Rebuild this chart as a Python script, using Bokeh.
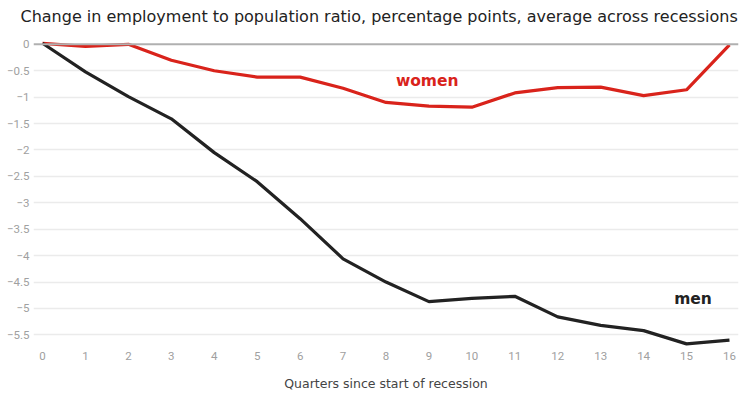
from bokeh.plotting import figure
from bokeh.models import Range1d, FixedTicker, Label, Span, Title
from bokeh.embed import file_html
from bokeh.resources import INLINE

quarters = list(range(17))
women = [0.02, -0.04, 0.0, -0.30, -0.50, -0.62, -0.62, -0.83, -1.10, -1.17, -1.19,
         -0.92, -0.82, -0.81, -0.97, -0.86, -0.01]
men = [0.02, -0.52, -0.99, -1.41, -2.05, -2.60, -3.30, -4.06, -4.50, -4.87, -4.81,
       -4.77, -5.16, -5.32, -5.42, -5.67, -5.60]
y_ticks = [0, -0.5, -1, -1.5, -2, -2.5, -3, -3.5, -4, -4.5, -5, -5.5]
title_text = "Change in employment to population ratio, percentage points, average across recessions"
x_label = "Quarters since start of recession"

p = figure(frame_width=705, frame_height=316, output_backend="svg", toolbar_location=None,
           x_range=Range1d(-0.21, 16.21), y_range=Range1d(-5.72, 0.262),
           min_border_left=33, min_border_right=5, min_border_top=30, min_border_bottom=10)
p.title = Title(text=title_text, text_font="DejaVu Sans", text_font_size="16px",
                text_font_style="normal", text_color="#222222", align="left", offset=-13,
                standoff=9)
p.outline_line_color = None
p.background_fill_color = "white"

p.xaxis.ticker = FixedTicker(ticks=quarters)
p.yaxis.ticker = FixedTicker(ticks=y_ticks)
p.yaxis.major_label_overrides = {t: (("−" + f"{abs(t):g}") if t < 0 else f"{t:g}") for t in y_ticks}
for ax in (p.xaxis[0], p.yaxis[0]):
    ax.axis_line_color = None
    ax.major_tick_line_color = None
    ax.minor_tick_line_color = None
    ax.major_tick_in = 0
    ax.major_tick_out = 0
    ax.minor_tick_in = 0
    ax.minor_tick_out = 0
    ax.major_label_text_font = "Roboto"
    ax.major_label_text_font_size = "11.5px"
    ax.major_label_text_color = "#a0a0a0"
p.yaxis.major_label_standoff = 4
p.xaxis.major_label_standoff = 5
p.xaxis.axis_label = x_label
p.xaxis.axis_label_text_font = "DejaVu Sans"
p.xaxis.axis_label_text_font_size = "12.5px"
p.xaxis.axis_label_text_font_style = "normal"
p.xaxis.axis_label_text_color = "#444444"
p.xaxis.axis_label_standoff = 13

p.xgrid.grid_line_color = None
p.ygrid.ticker = FixedTicker(ticks=y_ticks[1:])
p.ygrid.grid_line_color = "#ebebeb"
p.ygrid.grid_line_width = 1.5

p.add_layout(Span(location=0, dimension="width", line_color="#b0b0b0", line_width=2))

p.line(quarters, women, line_color="#d9231b", line_width=3.2)
p.line(quarters, men, line_color="#222222", line_width=3.2)

p.add_layout(Label(x=8.96, y=-0.7, text="women", text_color="#d9231b",
                   text_font="DejaVu Sans", text_font_style="bold", text_font_size="15.5px",
                   text_align="center", text_baseline="middle"))
p.add_layout(Label(x=15.15, y=-4.82, text="men", text_color="#222222",
                   text_font="DejaVu Sans", text_font_style="bold", text_font_size="15.5px",
                   text_align="center", text_baseline="middle"))

open("out.html", "w").write(file_html(p, INLINE))
